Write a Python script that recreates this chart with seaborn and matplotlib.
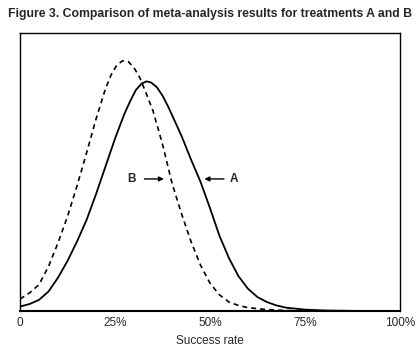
import matplotlib
matplotlib.use("Agg")
import matplotlib.pyplot as plt
import seaborn as sns
import pandas as pd

title = "Figure 3. Comparison of meta-analysis results for treatments A and B"
xlabel = "Success rate"
tick_pos = [0, 25, 50, 75, 100]
tick_labels = ["0", "25%", "50%", "75%", "100%"]

# Treatment A (solid)
a_x = [0, 2.5, 5, 7.5, 10, 12.5, 15, 17.5, 20, 22.5, 25, 27.5, 29, 30.5, 32, 33.3, 34.5, 36,
       37.5, 39, 40.5, 42.5, 45, 47.5, 50, 52.5, 55, 57.5, 60, 62.5, 65, 67.5, 70, 75, 80, 90, 100]
a_y = [0.016, 0.025, 0.04, 0.07, 0.12, 0.18, 0.25, 0.327, 0.42, 0.52, 0.62, 0.71, 0.755, 0.795,
       0.818, 0.826, 0.822, 0.805, 0.775, 0.735, 0.69, 0.63, 0.545, 0.465, 0.37, 0.27, 0.19,
       0.125, 0.08, 0.05, 0.032, 0.02, 0.012, 0.005, 0.002, 0.0, 0.0]

# Treatment B (dashed)
b_x = [0, 2.5, 5, 7.5, 10, 12.5, 15, 17.5, 20, 22.5, 24, 25.5, 27, 28.5, 30, 31.5, 33,
       35, 37.5, 40, 42.5, 45, 47.5, 50, 52.5, 55, 57.5, 60, 65, 70, 75]
b_y = [0.043, 0.065, 0.095, 0.16, 0.245, 0.34, 0.45, 0.568, 0.69, 0.80, 0.85, 0.885, 0.90,
       0.897, 0.875, 0.84, 0.79, 0.72, 0.60, 0.46, 0.35, 0.25, 0.165, 0.10, 0.058, 0.032,
       0.02, 0.012, 0.005, 0.002, 0.0]

df_a = pd.DataFrame({"x": a_x, "y": a_y})
df_b = pd.DataFrame({"x": b_x, "y": b_y})

sns.set_style("white")
plt.rcParams["font.family"] = ["Liberation Sans", "DejaVu Sans"]

fig = plt.figure(figsize=(4.2, 3.5), dpi=100)
ax = fig.add_axes([20 / 420, 1 - 311 / 350, 380 / 420, 278 / 350])

sns.lineplot(data=df_a, x="x", y="y", ax=ax, color="black", linewidth=1.3)
lb = sns.lineplot(data=df_b, x="x", y="y", ax=ax, color="black", linewidth=1.2)
lb.lines[-1].set_dashes((3.0, 2.4))
for ln in ax.lines:
    ln.set_solid_joinstyle("round")
    ln.set_dash_joinstyle("round")

ax.set_xlim(0, 100)
ax.set_ylim(0, 1)
ax.set_yticks([])
ax.set_xticks(tick_pos)
ax.set_xticklabels(tick_labels, fontsize=8.5)
ax.tick_params(axis="x", length=0, pad=4)
ax.set_xlabel(xlabel, fontsize=8.5, labelpad=5)
ax.set_ylabel("")
for s in ax.spines.values():
    s.set_visible(True)
    s.set_color("black")
    s.set_linewidth(1.0)
ax.spines["bottom"].set_linewidth(1.5)

# arrows and labels
ax.annotate("", xy=(38.6, 0.475), xytext=(32.0, 0.475),
            arrowprops=dict(arrowstyle="-|>", color="black", lw=1.0, mutation_scale=7))
ax.text(29.4, 0.475, "B", fontsize=8.5, fontweight="bold", ha="center", va="center")
ax.annotate("", xy=(47.8, 0.475), xytext=(54.4, 0.475),
            arrowprops=dict(arrowstyle="-|>", color="black", lw=1.0, mutation_scale=7))
ax.text(56.3, 0.475, "A", fontsize=8.5, fontweight="bold", ha="center", va="center")

fig.text(8 / 420, 1 - 14 / 350, title, fontsize=8.8, fontweight="bold",
         ha="left", va="center")

fig.savefig("out.png", dpi=100)
